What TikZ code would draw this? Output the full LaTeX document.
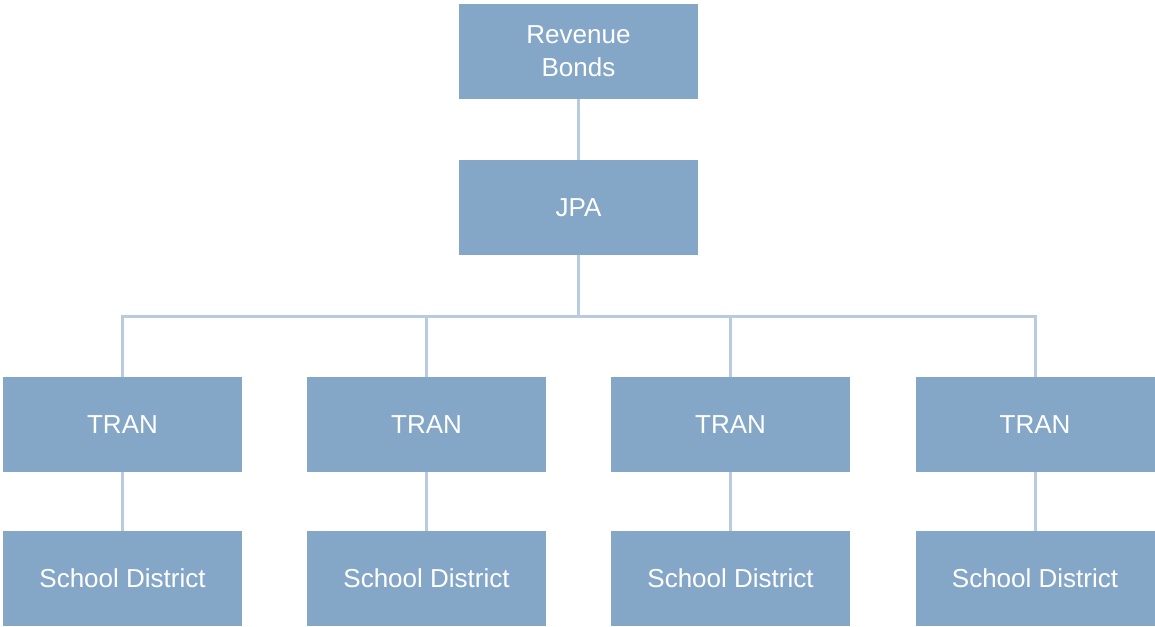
\documentclass[tikz,border=0pt]{standalone}
\usepackage{fontspec}
\setmainfont{Liberation Sans}
\definecolor{boxblue}{HTML}{84A7C8}
\definecolor{lineblue}{HTML}{B9CBDE}
\tikzset{
  box/.style={fill=boxblue,text=white,minimum width=239pt,minimum height=95pt,
    inner sep=0pt,align=center,font=\fontsize{26}{33}\selectfont},
  link/.style={lineblue,line width=3pt}
}
\begin{document}
\begin{tikzpicture}[x=1pt,y=-1pt]
    \useasboundingbox (0,0) rectangle (1155,626);
    \node[box] (bonds) at (578.5,51.5) {Revenue\\Bonds};
    \node[box] (jpa) at (578.5,207.5) {JPA};
    \coordinate (bus) at (578.5,316);
    \draw[link] (bonds) -- (jpa);
    \draw[link] (jpa) -- (bus);
    % one TRAN and its school district per column
    \foreach \i/\x in {1/122.5,2/426.5,3/730.5,4/1035}
    {
    \node[box] (tran\i) at (\x,424.5) {TRAN};
    \node[box] (district\i) at (\x,578.5) {School District};
    \draw[link] (bus) -| (tran\i);
    \draw[link] (tran\i) -- (district\i);
    }
\end{tikzpicture}
\end{document}
